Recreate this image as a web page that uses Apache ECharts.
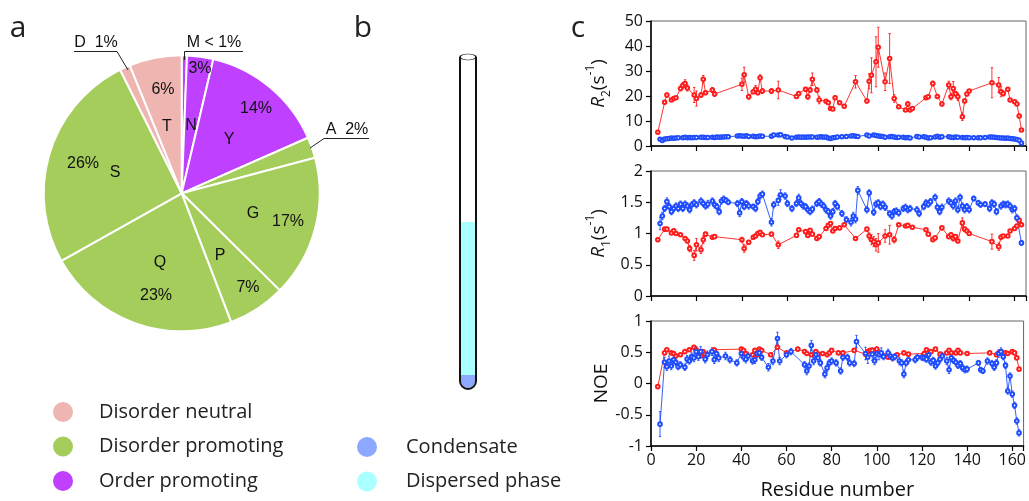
<!DOCTYPE html>
<html><head><meta charset="utf-8">
<script src="https://cdn.jsdelivr.net/npm/echarts@6/dist/echarts.min.js"></script>
<style>html,body{margin:0;padding:0;background:#fff}#c{width:1029px;height:501px}</style>
</head><body><div id="c"></div>
<script>
// ---------- Panel a: amino-acid composition ----------
const pieCategories = ['M','N','Y','A','G','P','Q','S','D','T'];
const pieCounts     = [1, 5, 24, 4, 27, 11, 37, 42, 2, 10];
const pieGroups     = ['Order promoting','Order promoting','Order promoting','Disorder promoting','Disorder promoting','Disorder promoting','Disorder promoting','Disorder promoting','Disorder neutral','Disorder neutral'];
const piePercentLabels = ['< 1%','3%','14%','2%','17%','7%','23%','26%','1%','6%'];
const legendGroups = ['Disorder neutral','Disorder promoting','Order promoting'];
const tubeLegend = ['Condensate','Dispersed phase'];

// ---------- Panel c: relaxation data [residue, value, error] ----------
const r2Red = [[3,5.5,0.5],[6,17.5,0.8],[7,20.4,0.8],[9,18.4,0.6],[10,19,0.6],[11,19.3,0.6],[13,23,1],[14,24.2,1.2],[15,25,1.5],[16,23.2,1.2],[19,20.4,3],[20,19,3],[22,20.4,1],[23,26.7,1.5],[24,21.3,0.8],[27,22.4,1],[28,20.8,1],
 [40,24.7,2.5],[41,28.5,3],[43,19.7,1],[45,21.7,0.8],[46,22.7,1.5],[47,21.3,0.8],[48,27.3,1.2],[49,22,1],[53,22,1],[56,22.4,3.5],[64,19.8,0.8],[65,21,0.8],[68,22.7,0.8],[69,19.7,1],[70,22.4,1],[71,26.7,2.5],[73,22.4,1],[74,18.4,1.5],
 [77,17.9,0.5],[78,17.3,0.5],[79,15,0.5],[80,14.8,0.5],[81,19.3,0.8],[83,17.3,0.6],[85,15.9,0.5],[90,25.7,2.5],[95,18,0.8],[96,25.9,3],[97,28.3,7],[99,33.7,10],[100,39.5,8],[103,25.7,3.5],[105,35,10],[107,19,1.5],[109,15.7,0.5],
 [112,14.4,0.5],[113,16.8,1],[114,14.4,0.5],[115,15,0.5],[121,19.3,0.6],[122,19.7,0.8],[124,25,1],[126,19.8,0.8],[128,16.8,0.8],[131,24.4,1.5],[132,19.7,1.2],[133,23,2.8],[134,20.9,1],[135,19.7,1.5],[137,11.7,1.5],[138,18,0.8],[139,20.8,0.8],[140,22,0.6],
 [150,25.3,6],[153,24.4,3],[154,21.7,2],[155,21,1],[157,22.7,0.6],[158,18.4,0.6],[160,17.7,0.5],[161,16.8,0.5],[162,12,0.8],[163,6.4,0.5]];
const r2Blue = [[4,2.7,0.2],[5,2.2,0.2],[6,2.8,0.2],[7,2.9,0.2],[8,3.0,0.2],[9,3.2,0.2],[10,3.1,0.2],[11,3.2,0.2],[12,3.3,0.2],[14,3.3,0.2],[15,3.5,0.2],[16,3.3,0.2],[17,3.4,0.2],[18,3.3,0.2],[19,3.4,0.2],[20,3.4,0.2],[22,3.5,0.2],[23,3.5,0.2],[24,3.4,0.2],[25,3.4,0.2],[27,3.5,0.2],[28,3.4,0.2],[29,3.6,0.2],[30,3.5,0.2],[31,3.6,0.2],[32,3.6,0.2],[33,3.7,0.2],[34,3.7,0.2],
 [38,4.0,0.2],[39,4.1,0.2],[40,4.0,0.2],[41,3.9,0.2],[42,4.1,0.2],[43,3.8,0.2],[45,3.9,0.2],[46,3.7,0.2],[47,3.8,0.2],[48,4.0,0.2],[49,3.9,0.2],[53,3.9,0.2],[54,4.4,0.2],[56,4.4,0.2],[57,4.5,0.2],[59,3.8,0.2],[60,3.6,0.2],[62,3.2,0.2],[64,3.5,0.2],[65,3.6,0.2],[66,3.5,0.2],[67,3.6,0.2],[68,3.5,0.2],[69,3.6,0.2],[70,3.6,0.2],[71,3.6,0.2],[73,3.5,0.2],[74,3.6,0.2],[75,3.7,0.2],[76,3.5,0.2],[77,3.6,0.2],[78,3.2,0.2],[79,3.0,0.2],[80,3.3,0.2],[81,3.4,0.2],[82,3.6,0.2],[84,3.7,0.2],[86,3.8,0.2],[88,4.0,0.2],[89,4.1,0.2],[90,3.9,0.2],[91,3.8,0.2],
 [95,4.4,0.2],[96,4.0,0.2],[98,4.4,0.2],[99,4.2,0.2],[100,4.0,0.2],[101,3.9,0.2],[102,3.8,0.2],[103,3.5,0.2],[105,3.7,0.2],[106,3.8,0.2],[107,3.6,0.2],[108,3.4,0.2],[109,3.5,0.2],[111,3.5,0.2],[112,3.3,0.2],[113,3.4,0.2],[114,3.2,0.2],[117,3.8,0.2],[118,3.6,0.2],[120,3.7,0.2],[121,3.5,0.2],[122,3.2,0.2],[123,3.3,0.2],[125,3.6,0.2],[126,3.9,0.2],[127,3.5,0.2],[128,3.7,0.2],
 [131,3.7,0.2],[132,3.5,0.2],[133,3.4,0.2],[134,3.6,0.2],[135,3.5,0.2],[137,3.4,0.2],[138,3.3,0.2],[139,3.4,0.2],[140,3.3,0.2],[142,3.3,0.2],[144,3.3,0.2],[145,3.3,0.2],[147,3.4,0.2],[149,3.6,0.2],[150,3.6,0.2],[151,3.5,0.2],[152,3.4,0.2],[153,3.3,0.2],[154,3.2,0.2],[155,3.2,0.2],[156,3.1,0.2],[157,3.2,0.2],[158,3.0,0.2],[159,2.9,0.2],[160,2.8,0.2],[161,2.6,0.2],[162,2.3,0.2],[163,1.2,0.2]];

const r1Red = [[3,0.9,0.03],[6,1.07,0.02],[7,1.07,0.02],[9,1.01,0.02],[10,1.045,0.03],[11,1.0,0.02],[13,0.98,0.02],[15,0.92,0.03],[16,0.88,0.03],[17,0.76,0.05],[19,0.65,0.08],[20,0.82,0.1],[22,0.74,0.06],[23,0.9,0.06],[24,0.99,0.03],[27,0.94,0.03],[28,0.95,0.02],
 [40,0.9,0.04],[41,0.76,0.06],[43,0.86,0.03],[45,0.94,0.03],[46,0.96,0.03],[47,1.0,0.03],[48,1.02,0.02],[49,0.98,0.02],[53,0.99,0.02],[56,0.82,0.06],[64,0.97,0.03],[65,1.06,0.03],[68,1.03,0.03],[69,0.97,0.02],[70,1.05,0.02],[71,0.99,0.03],[73,0.92,0.02],[74,0.95,0.02],
 [77,1.08,0.02],[78,1.13,0.02],[79,1.16,0.03],[80,1.04,0.02],[81,1.08,0.02],[83,1.09,0.02],[85,1.14,0.02],[90,0.92,0.03],[95,1.07,0.03],[96,0.96,0.05],[97,0.9,0.08],[98,0.87,0.08],[99,0.82,0.1],[100,0.85,0.15],[103,0.96,0.1],[105,0.98,0.15],[107,0.9,0.05],[109,1.14,0.02],
 [112,1.12,0.02],[113,1.13,0.02],[115,1.1,0.02],[121,1.06,0.02],[122,0.99,0.02],[124,0.9,0.02],[125,0.93,0.02],[128,1.09,0.02],[131,0.95,0.03],[132,0.98,0.03],[133,0.92,0.04],[134,0.95,0.03],[135,0.88,0.03],[137,1.17,0.08],[138,1.07,0.03],[139,1.04,0.02],[140,1.0,0.02],
 [150,0.87,0.12],[153,0.79,0.06],[154,0.94,0.04],[155,0.96,0.02],[157,0.96,0.02],[158,1.04,0.02],[160,1.08,0.02],[161,1.12,0.02],[162,1.21,0.04],[163,1.14,0.02]];
const r1Blue = [[4,1.16,0.1],[5,1.28,0.06],[6,1.4,0.05],[7,1.51,0.06],[8,1.43,0.05],[9,1.35,0.05],[10,1.4,0.05],[11,1.44,0.05],[12,1.4,0.05],[13,1.47,0.05],[14,1.4,0.05],[15,1.47,0.05],[16,1.44,0.05],[17,1.38,0.05],[18,1.46,0.05],[19,1.49,0.05],[20,1.46,0.05],[22,1.52,0.05],[23,1.48,0.05],[24,1.44,0.05],[25,1.47,0.06],[27,1.52,0.05],[28,1.46,0.05],[29,1.43,0.05],[30,1.35,0.05],[31,1.52,0.05],[32,1.55,0.05],[33,1.53,0.04],[34,1.5,0.04],
 [38,1.48,0.05],[39,1.33,0.06],[40,1.51,0.05],[41,1.43,0.05],[42,1.48,0.05],[43,1.44,0.05],[45,1.43,0.04],[46,1.4,0.05],[47,1.51,0.05],[48,1.6,0.05],[49,1.63,0.05],[53,1.18,0.06],[54,1.46,0.05],[56,1.53,0.08],[57,1.62,0.08],[59,1.6,0.05],[60,1.48,0.05],[62,1.4,0.05],[64,1.48,0.05],[65,1.57,0.06],[66,1.48,0.05],[67,1.44,0.05],[68,1.43,0.05],[69,1.38,0.05],[70,1.35,0.05],[71,1.39,0.05],[73,1.48,0.05],[74,1.51,0.05],[75,1.47,0.05],[76,1.44,0.05],[77,1.38,0.05],[78,1.35,0.05],[79,1.28,0.05],[80,1.35,0.05],[81,1.48,0.05],[82,1.43,0.05],[84,1.32,0.05],[86,1.22,0.05],[88,1.18,0.06],[89,1.28,0.06],[90,1.23,0.06],[91,1.69,0.06],
 [95,1.38,0.05],[96,1.65,0.05],[98,1.34,0.05],[99,1.47,0.05],[100,1.49,0.05],[101,1.43,0.05],[102,1.47,0.05],[103,1.42,0.05],[105,1.32,0.05],[106,1.28,0.05],[107,1.35,0.05],[108,1.36,0.05],[109,1.33,0.05],[111,1.4,0.05],[112,1.42,0.05],[113,1.38,0.05],[114,1.4,0.05],[117,1.38,0.05],[118,1.32,0.05],[120,1.43,0.05],[121,1.49,0.05],[122,1.47,0.05],[123,1.51,0.05],[125,1.58,0.05],[126,1.42,0.05],[127,1.35,0.05],[128,1.42,0.05],
 [131,1.52,0.05],[132,1.49,0.05],[133,1.44,0.05],[134,1.52,0.05],[135,1.38,0.05],[136,1.58,0.05],[137,1.44,0.05],[138,1.38,0.05],[139,1.43,0.05],[140,1.38,0.05],[142,1.56,0.04],[144,1.49,0.04],[145,1.46,0.04],[147,1.47,0.04],[149,1.4,0.05],[150,1.49,0.05],[151,1.47,0.05],[152,1.35,0.05],[154,1.44,0.05],[155,1.47,0.05],[156,1.46,0.05],[157,1.47,0.05],[158,1.44,0.05],[159,1.38,0.05],[160,1.4,0.05],[161,1.25,0.05],[163,0.85,0.04]];

const noeRed = [[3,-0.05,0.02],[6,0.49,0.02],[7,0.54,0.02],[9,0.49,0.02],[10,0.48,0.02],[11,0.44,0.02],[13,0.46,0.02],[15,0.51,0.02],[17,0.54,0.02],[19,0.58,0.03],[20,0.54,0.03],[22,0.44,0.02],[23,0.51,0.03],[24,0.47,0.02],[28,0.54,0.02],
 [40,0.55,0.03],[41,0.53,0.02],[42,0.48,0.02],[45,0.46,0.02],[46,0.53,0.02],[47,0.46,0.02],[48,0.55,0.02],[49,0.53,0.02],[53,0.46,0.02],[56,0.58,0.03],[60,0.49,0.02],[65,0.55,0.02],[68,0.51,0.02],[69,0.48,0.02],[71,0.46,0.02],[73,0.51,0.02],[74,0.47,0.02],
 [76,0.48,0.02],[78,0.46,0.02],[79,0.49,0.02],[80,0.53,0.02],[83,0.49,0.02],[85,0.49,0.02],[90,0.53,0.02],[95,0.47,0.02],[96,0.51,0.02],[97,0.53,0.02],[98,0.53,0.02],[100,0.55,0.02],[103,0.44,0.02],[105,0.42,0.02],[107,0.41,0.02],[109,0.46,0.02],[112,0.49,0.02],[114,0.47,0.02],
 [121,0.48,0.02],[122,0.54,0.02],[124,0.51,0.02],[126,0.55,0.02],[128,0.47,0.02],[131,0.49,0.02],[132,0.53,0.02],[133,0.49,0.02],[135,0.49,0.02],[136,0.53,0.02],[137,0.49,0.02],[140,0.48,0.02],
 [150,0.49,0.02],[153,0.46,0.02],[154,0.49,0.02],[155,0.51,0.02],[157,0.49,0.02],[158,0.48,0.02],[160,0.51,0.02],[161,0.49,0.02],[162,0.41,0.02],[163,0.23,0.02]];
const noeBlue = [[4,-0.65,0.2],[6,0.34,0.08],[7,0.27,0.06],[8,0.36,0.08],[9,0.28,0.06],[10,0.38,0.06],[11,0.34,0.05],[12,0.27,0.05],[13,0.3,0.05],[15,0.26,0.05],[16,0.39,0.06],[17,0.36,0.05],[18,0.43,0.06],[19,0.41,0.06],[20,0.51,0.08],[21,0.43,0.06],[22,0.51,0.08],[24,0.39,0.06],[25,0.46,0.06],[27,0.51,0.06],[28,0.38,0.06],[29,0.48,0.06],[30,0.41,0.06],[33,0.44,0.06],[35,0.38,0.05],
 [38,0.33,0.05],[40,0.48,0.06],[41,0.42,0.06],[42,0.39,0.06],[43,0.44,0.06],[45,0.36,0.05],[46,0.38,0.06],[47,0.48,0.06],[48,0.49,0.06],[49,0.42,0.05],[52,0.26,0.06],[54,0.36,0.06],[56,0.72,0.1],[57,0.36,0.06],[60,0.46,0.05],[62,0.51,0.05],[68,0.3,0.05],[69,0.2,0.06],[70,0.28,0.05],[71,0.61,0.08],[72,0.36,0.06],[73,0.46,0.06],[74,0.41,0.06],[75,0.33,0.05],[77,0.15,0.06],[78,0.25,0.06],[79,0.33,0.05],[80,0.36,0.05],[82,0.33,0.05],[84,0.2,0.05],[85,0.42,0.05],[87,0.42,0.05],[88,0.33,0.05],[90,0.32,0.05],[91,0.67,0.1],
 [95,0.48,0.1],[96,0.42,0.1],[98,0.47,0.1],[99,0.36,0.06],[100,0.48,0.1],[101,0.46,0.08],[102,0.49,0.08],[103,0.43,0.05],[105,0.49,0.06],[106,0.44,0.05],[107,0.41,0.05],[108,0.43,0.05],[110,0.36,0.06],[111,0.33,0.05],[112,0.15,0.06],[113,0.33,0.05],[114,0.38,0.06],[117,0.38,0.05],[118,0.42,0.05],[120,0.42,0.05],[121,0.41,0.05],[122,0.39,0.05],[123,0.46,0.06],[124,0.34,0.05],[125,0.37,0.05],[126,0.28,0.05],[127,0.33,0.05],[128,0.39,0.05],[129,0.44,0.06],
 [131,0.36,0.06],[132,0.22,0.06],[133,0.41,0.05],[134,0.37,0.05],[135,0.34,0.05],[136,0.29,0.05],[137,0.32,0.05],[138,0.25,0.05],[139,0.22,0.05],[140,0.23,0.05],[145,0.33,0.04],[146,0.22,0.04],[147,0.2,0.04],[149,0.36,0.05],[151,0.32,0.05],[152,0.26,0.05],[153,0.33,0.05],[154,0.48,0.06],[155,0.51,0.06],[156,0.43,0.05],[157,0.29,0.05],[158,-0.12,0.05],[159,0.12,0.05],[160,-0.17,0.05],[161,-0.35,0.05],[162,-0.6,0.05],[163,-0.79,0.05]];

const xTicks = [0,20,40,60,80,100,120,140,160];

// ---------- styling ----------
const FONT = 'Open Sans';
const ARIAL = 'Liberation Sans';
const RED = '#ff1c1c', BLUE = '#1f4cff';
const groupColors = {'Disorder neutral':'#efb5b0','Disorder promoting':'#a5cd5b','Order promoting':'#bf40ff'};
const phaseColors = {'Condensate':'#8fa8ff','Dispersed phase':'#aaffff'};

const chart = echarts.init(document.getElementById('c'), null, {renderer:'canvas'});

const grids = [
  {left:651, top:21, width:375, height:125},
  {left:651, top:171, width:375, height:125},
  {left:651, top:321, width:375, height:126}
];

function xAxisFor(i){
  return {type:'value', gridIndex:i, min:0, max:165, interval:20,
    axisLine:{show:true, onZero:false, lineStyle:{color:'#000', width:1.5}},
    axisTick:{show:true, length:5, lineStyle:{color:'#000', width:1.2}},
    axisLabel:{show:i===2, fontFamily:FONT, fontSize:16, color:'#111', margin:6,
      formatter: v => xTicks.indexOf(v) >= 0 ? String(v) : ''},
    splitLine:{show:false},
    name: i===2 ? 'Residue number' : '', nameLocation:'middle', nameGap:34,
    nameTextStyle:{fontFamily:FONT, fontSize:20, color:'#111'}};
}
const richName = {
  i:{fontFamily:FONT, fontSize:19, fontStyle:'italic', color:'#111', lineHeight:28},
  n:{fontFamily:FONT, fontSize:19, color:'#111', lineHeight:28},
  s:{fontFamily:FONT, fontSize:12, color:'#111', verticalAlign:'bottom', lineHeight:14},
  p:{fontFamily:FONT, fontSize:12, color:'#111', verticalAlign:'top', lineHeight:14}
};
function yAxisFor(i, min, max, interval, name, gap){
  return {type:'value', gridIndex:i, min, max, interval,
    axisLine:{show:true, onZero:false, lineStyle:{color:'#000', width:1.5}},
    axisTick:{show:true, length:5, lineStyle:{color:'#000', width:1.2}},
    axisLabel:{fontFamily:FONT, fontSize:16, color:'#111', margin:8},
    splitLine:{show:false},
    name, nameLocation:'middle', nameGap:gap, nameRotate:90,
    nameTextStyle:{fontFamily:FONT, fontSize:19, color:'#111', rich:richName}};
}

function errSeries(data, color, idx){
  return {type:'custom', xAxisIndex:idx, yAxisIndex:idx, data, z:2, silent:true,
    renderItem:(params, api) => {
      const x = api.value(0), y = api.value(1), e = api.value(2);
      const t = api.coord([x, y+e]), b = api.coord([x, y-e]);
      if (Math.abs(b[1]-t[1]) < 3) return {type:'group', children:[]};
      const w = 1.2;
      const st = {stroke:color, lineWidth:0.9};
      return {type:'group', children:[
        {type:'line', shape:{x1:t[0], y1:t[1], x2:b[0], y2:b[1]}, style:st},
        {type:'line', shape:{x1:t[0]-w, y1:t[1], x2:t[0]+w, y2:t[1]}, style:st},
        {type:'line', shape:{x1:b[0]-w, y1:b[1], x2:b[0]+w, y2:b[1]}, style:st}
      ]};
    }};
}
function lineSeries(data, color, idx){
  return {type:'line', xAxisIndex:idx, yAxisIndex:idx, data:data.map(d=>[d[0], d[1]]), z:3,
    symbol:'emptyCircle', symbolSize:3.6, showSymbol:true, animation:false,
    lineStyle:{color, width:0.9}, itemStyle:{color, borderWidth:0.9}};
}

// Pie labels (annotation text placed inside the pie)
const pieTextItems = [
  ['T',167,127],['6%',163,90],['N',191,126],['3%',200,69],['Y',229,140],['14%',256,109],
  ['G',253,214],['17%',288,222],['P',220,256],['7%',248,288],['Q',160,263],['23%',156,296],
  ['S',115,173],['26%',83,164]
];
const graphics = [];
pieTextItems.forEach(t => graphics.push({type:'text', x:t[1], y:t[2], z:10,
  style:{text:t[0], font:`16px "${ARIAL}"`, fill:'#111', textAlign:'center', textVerticalAlign:'middle'}}));
// callout labels
graphics.push({type:'text', x:96, y:43, z:10, style:{text:'D  '+piePercentLabels[8], font:`16px "${ARIAL}"`, fill:'#111', textAlign:'center', textVerticalAlign:'middle'}});
graphics.push({type:'polyline', z:10, shape:{points:[[74,51.5],[117,51.5],[128,70]]}, style:{stroke:'#222', lineWidth:1, fill:null}});
graphics.push({type:'text', x:214, y:43, z:10, style:{text:'M '+piePercentLabels[0], font:`16px "${ARIAL}"`, fill:'#111', textAlign:'center', textVerticalAlign:'middle'}});
graphics.push({type:'polyline', z:10, shape:{points:[[243,51.5],[184.5,51.5],[184.5,60]]}, style:{stroke:'#222', lineWidth:1, fill:null}});
graphics.push({type:'text', x:347, y:130, z:10, style:{text:'A  '+piePercentLabels[3], font:`16px "${ARIAL}"`, fill:'#111', textAlign:'center', textVerticalAlign:'middle'}});
graphics.push({type:'polyline', z:10, shape:{points:[[369,138.5],[324,138.5],[310,148]]}, style:{stroke:'#222', lineWidth:1, fill:null}});

// panel letters
[['a',18,28],['b',363,28],['c',578,28]].forEach(t => graphics.push({type:'text', x:t[1], y:t[2], z:10,
  style:{text:t[0], font:`30px "${FONT}"`, fill:'#222', textAlign:'center', textVerticalAlign:'middle'}}));

// tube (panel b illustration)
graphics.push({type:'rect', z:5, shape:{x:461, y:222, width:14, height:153}, style:{fill:phaseColors['Dispersed phase']}});
graphics.push({type:'rect', z:5, shape:{x:461, y:375, width:14, height:6}, style:{fill:phaseColors['Condensate']}});
graphics.push({type:'sector', z:5, shape:{cx:468, cy:381, r0:0, r:7, startAngle:0, endAngle:Math.PI, clockwise:true}, style:{fill:phaseColors['Condensate']}});
graphics.push({type:'polyline', z:6, shape:{points:[[460,57],[460,381]]}, style:{stroke:'#111', lineWidth:2, fill:null}});
graphics.push({type:'polyline', z:6, shape:{points:[[476,57],[476,381]]}, style:{stroke:'#111', lineWidth:2, fill:null}});
graphics.push({type:'arc', z:6, shape:{cx:468, cy:381, r:8, startAngle:0, endAngle:Math.PI, clockwise:true}, style:{stroke:'#111', lineWidth:2, fill:null}});
graphics.push({type:'circle', z:7, x:468, y:57, scaleY:0.38, shape:{cx:0, cy:0, r:8}, style:{stroke:'#111', lineWidth:1.6, fill:'#fff', strokeNoScale:true}});

// legends
legendGroups.forEach((g,i) => {
  graphics.push({type:'circle', z:10, shape:{cx:63, cy:412+i*34.5, r:10}, style:{fill:groupColors[g]}});
  graphics.push({type:'text', x:99, y:412+i*34.5, z:10, style:{text:g, font:`20px "${FONT}"`, fill:'#222', textVerticalAlign:'middle'}});
});
tubeLegend.forEach((g,i) => {
  graphics.push({type:'circle', z:10, shape:{cx:367, cy:447+i*34.5, r:10}, style:{fill:phaseColors[g]}});
  graphics.push({type:'text', x:406, y:447+i*34.5, z:10, style:{text:g, font:`20px "${FONT}"`, fill:'#222', textVerticalAlign:'middle'}});
});

const option = {
  animation:false,
  grid: grids.map(g => Object.assign({show:true, borderColor:'#666', borderWidth:1, backgroundColor:'transparent'}, g)),
  xAxis:[xAxisFor(0), xAxisFor(1), xAxisFor(2)],
  yAxis:[
    yAxisFor(0, 0, 50, 10, '{i|R}{s|2}{n|(s}{p|-1}{n|)}', 38),
    yAxisFor(1, 0, 2, 0.5, '{i|R}{s|1}{n|(s}{p|-1}{n|)}', 38),
    yAxisFor(2, -1, 1, 0.5, 'NOE', 40)
  ],
  series:[
    {type:'pie', center:[181.7,193.3], radius:138, startAngle:90, clockwise:true, z:1,
      label:{show:false}, labelLine:{show:false}, silent:true,
      itemStyle:{borderColor:'#fff', borderWidth:2},
      data: pieCategories.map((c,i) => ({name:c, value:pieCounts[i], itemStyle:{color:groupColors[pieGroups[i]]}}))},
    errSeries(r2Red, RED, 0), errSeries(r2Blue, BLUE, 0), lineSeries(r2Red, RED, 0), lineSeries(r2Blue, BLUE, 0),
    errSeries(r1Red, RED, 1), errSeries(r1Blue, BLUE, 1), lineSeries(r1Red, RED, 1), lineSeries(r1Blue, BLUE, 1),
    errSeries(noeRed, RED, 2), errSeries(noeBlue, BLUE, 2), lineSeries(noeRed, RED, 2), lineSeries(noeBlue, BLUE, 2)
  ],
  graphic: graphics
};
chart.setOption(option);
</script></body></html>
